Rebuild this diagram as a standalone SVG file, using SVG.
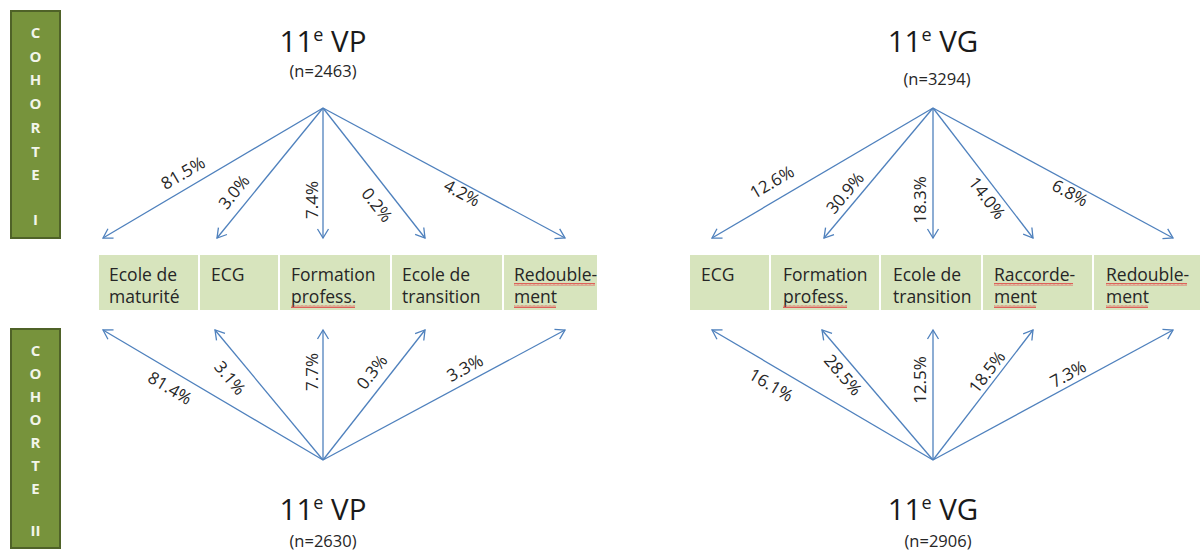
<svg xmlns="http://www.w3.org/2000/svg" width="1201" height="552" viewBox="0 0 1201 552">
<style>
.bar{fill:#77933c;stroke:#4f6228;stroke-width:2}
.bl{font-family:"Open Sans","Liberation Sans",sans-serif;font-weight:bold;font-size:15px;fill:#f2f5ea;text-anchor:middle}
.box{fill:#d7e4bd}
.bt{font-family:"Open Sans","Liberation Sans",sans-serif;font-size:17.5px;fill:#262626}
.ttl{font-family:"Open Sans","Liberation Sans",sans-serif;font-size:29.5px;fill:#1a1a1a;text-anchor:middle}
.n{font-family:"Open Sans","Liberation Sans",sans-serif;font-size:16.5px;fill:#262626;text-anchor:middle}
.pc{font-family:"Open Sans","Liberation Sans",sans-serif;font-size:17px;fill:#262626;text-anchor:middle}
.ar{stroke:#4f81bd;stroke-width:1.3;fill:none;marker-end:url(#ah)}
.wv{fill:url(#wave)}
</style>
<defs>
<marker id="ah" viewBox="-12 -7 14 14" refX="0" refY="0" markerWidth="14" markerHeight="14" markerUnits="userSpaceOnUse" orient="auto">
<path d="M-9,-5.5 L0,0 L-9,5.5" fill="none" stroke="#4f81bd" stroke-width="1.3"/>
</marker>
<pattern id="wave" width="4" height="3" patternUnits="userSpaceOnUse">
<path d="M0,2.5 L1,0.5 L2,2.5 L3,0.5 L4,2.5" fill="none" stroke="#e04040" stroke-width="0.8"/>
</pattern>
</defs>

<g id="cohorte-1">
<rect class="bar" x="11" y="11" width="49" height="227"/>
<text class="bl" x="35.5" y="38">C</text>
<text class="bl" x="35.5" y="62">O</text>
<text class="bl" x="35.5" y="85">H</text>
<text class="bl" x="35.5" y="109">O</text>
<text class="bl" x="35.5" y="133">R</text>
<text class="bl" x="35.5" y="157">T</text>
<text class="bl" x="35.5" y="180">E</text>
<text class="bl" x="35.5" y="225">I</text>
</g>
<g id="cohorte-2">
<rect class="bar" x="11" y="329" width="49" height="219"/>
<text class="bl" x="35.5" y="356">C</text>
<text class="bl" x="35.5" y="379">O</text>
<text class="bl" x="35.5" y="402">H</text>
<text class="bl" x="35.5" y="425">O</text>
<text class="bl" x="35.5" y="448">R</text>
<text class="bl" x="35.5" y="471">T</text>
<text class="bl" x="35.5" y="494">E</text>
<text class="bl" x="35.5" y="536">II</text>
</g>

<g id="title-vp-top">
<text class="ttl" x="323" y="52">11<tspan font-size="18" dy="-11">e</tspan><tspan dy="11"> VP</tspan></text>
<text class="n" x="323" y="77">(n=2463)</text>
</g>
<g id="title-vg-top">
<text class="ttl" x="933" y="52">11<tspan font-size="18" dy="-11">e</tspan><tspan dy="11"> VG</tspan></text>
<text class="n" x="937" y="85">(n=3294)</text>
</g>
<g id="title-vp-bottom">
<text class="ttl" x="323" y="520">11<tspan font-size="18" dy="-11">e</tspan><tspan dy="11"> VP</tspan></text>
<text class="n" x="323" y="547">(n=2630)</text>
</g>
<g id="title-vg-bottom">
<text class="ttl" x="933" y="520">11<tspan font-size="18" dy="-11">e</tspan><tspan dy="11"> VG</tspan></text>
<text class="n" x="938" y="547">(n=2906)</text>
</g>

<g id="vp-ecole-maturite">
<rect class="box" x="99" y="255" width="99" height="55"/>
<text class="bt" x="109" y="281">Ecole de</text>
<text class="bt" x="109" y="303">maturité</text>
</g>
<g id="vp-ecg">
<rect class="box" x="200" y="255" width="78" height="55"/>
<text class="bt" x="211" y="281">ECG</text>
</g>
<g id="vp-formation">
<rect class="box" x="280" y="255" width="110" height="55"/>
<text class="bt" x="291" y="281">Formation</text>
<text class="bt" x="291" y="303">profess.</text>
<rect class="wv" x="291" y="305" width="64" height="3"/>
</g>
<g id="vp-ecole-transition">
<rect class="box" x="392" y="255" width="110" height="55"/>
<text class="bt" x="402" y="281">Ecole de</text>
<text class="bt" x="402" y="303">transition</text>
</g>
<g id="vp-redoublement">
<rect class="box" x="504" y="255" width="93" height="55"/>
<text class="bt" x="514" y="281">Redouble-</text>
<text class="bt" x="514" y="303">ment</text>
<rect class="wv" x="514" y="283" width="81" height="3"/>
<rect class="wv" x="514" y="305" width="42" height="3"/>
</g>

<g id="vg-ecg">
<rect class="box" x="690" y="255" width="79" height="55"/>
<text class="bt" x="701" y="281">ECG</text>
</g>
<g id="vg-formation">
<rect class="box" x="771" y="255" width="108" height="55"/>
<text class="bt" x="783" y="281">Formation</text>
<text class="bt" x="783" y="303">profess.</text>
<rect class="wv" x="783" y="305" width="64" height="3"/>
</g>
<g id="vg-ecole-transition">
<rect class="box" x="881" y="255" width="100" height="55"/>
<text class="bt" x="893" y="281">Ecole de</text>
<text class="bt" x="893" y="303">transition</text>
</g>
<g id="vg-raccordement">
<rect class="box" x="983" y="255" width="109" height="55"/>
<text class="bt" x="994" y="281">Raccorde-</text>
<text class="bt" x="994" y="303">ment</text>
<rect class="wv" x="994" y="283" width="79" height="3"/>
<rect class="wv" x="994" y="305" width="42" height="3"/>
</g>
<g id="vg-redoublement">
<rect class="box" x="1094" y="255" width="106" height="55"/>
<text class="bt" x="1106" y="281">Redouble-</text>
<text class="bt" x="1106" y="303">ment</text>
<rect class="wv" x="1106" y="283" width="81" height="3"/>
<rect class="wv" x="1106" y="305" width="42" height="3"/>
</g>

<g id="connectors">
<line class="ar" x1="323" y1="108" x2="103" y2="238"/>
<line class="ar" x1="323" y1="108" x2="217" y2="238"/>
<line class="ar" x1="323" y1="108" x2="323" y2="238"/>
<line class="ar" x1="323" y1="108" x2="425" y2="238"/>
<line class="ar" x1="323" y1="108" x2="565" y2="238"/>

<line class="ar" x1="323" y1="460" x2="103" y2="330"/>
<line class="ar" x1="323" y1="460" x2="215" y2="330"/>
<line class="ar" x1="323" y1="460" x2="323" y2="330"/>
<line class="ar" x1="323" y1="460" x2="425" y2="330"/>
<line class="ar" x1="323" y1="460" x2="565" y2="330"/>

<line class="ar" x1="933" y1="108" x2="712" y2="238"/>
<line class="ar" x1="933" y1="108" x2="824" y2="238"/>
<line class="ar" x1="933" y1="108" x2="933" y2="238"/>
<line class="ar" x1="933" y1="108" x2="1033" y2="238"/>
<line class="ar" x1="933" y1="108" x2="1173" y2="238"/>

<line class="ar" x1="933" y1="460" x2="712" y2="330"/>
<line class="ar" x1="933" y1="460" x2="822" y2="330"/>
<line class="ar" x1="933" y1="460" x2="933" y2="330"/>
<line class="ar" x1="933" y1="460" x2="1033" y2="330"/>
<line class="ar" x1="933" y1="460" x2="1173" y2="330"/>

<text class="pc" transform="translate(183,173) rotate(-30.6)" dy="6">81.5%</text>
<text class="pc" transform="translate(234,192) rotate(-50.8)" dy="6">3.0%</text>
<text class="pc" transform="translate(312,200) rotate(-90)" dy="6">7.4%</text>
<text class="pc" transform="translate(377,205) rotate(51.9)" dy="6">0.2%</text>
<text class="pc" transform="translate(462,193) rotate(28.2)" dy="6">4.2%</text>

<text class="pc" transform="translate(170,388) rotate(30.6)" dy="6">81.4%</text>
<text class="pc" transform="translate(230,378) rotate(50.3)" dy="6">3.1%</text>
<text class="pc" transform="translate(312,372) rotate(-90)" dy="6">7.7%</text>
<text class="pc" transform="translate(372,372) rotate(-52)" dy="6">0.3%</text>
<text class="pc" transform="translate(465,368) rotate(-28.2)" dy="6">3.3%</text>

<text class="pc" transform="translate(772,182) rotate(-30.5)" dy="6">12.6%</text>
<text class="pc" transform="translate(845,193) rotate(-50)" dy="6">30.9%</text>
<text class="pc" transform="translate(920,200) rotate(-90)" dy="6">18.3%</text>
<text class="pc" transform="translate(987,198) rotate(52.4)" dy="6">14.0%</text>
<text class="pc" transform="translate(1070,193) rotate(28.4)" dy="6">6.8%</text>

<text class="pc" transform="translate(771,385) rotate(30.5)" dy="6">16.1%</text>
<text class="pc" transform="translate(843,375) rotate(49.5)" dy="6">28.5%</text>
<text class="pc" transform="translate(920,380) rotate(-90)" dy="6">12.5%</text>
<text class="pc" transform="translate(987,372) rotate(-52.4)" dy="6">18.5%</text>
<text class="pc" transform="translate(1068,374) rotate(-28.4)" dy="6">7.3%</text>
</g>
</svg>
